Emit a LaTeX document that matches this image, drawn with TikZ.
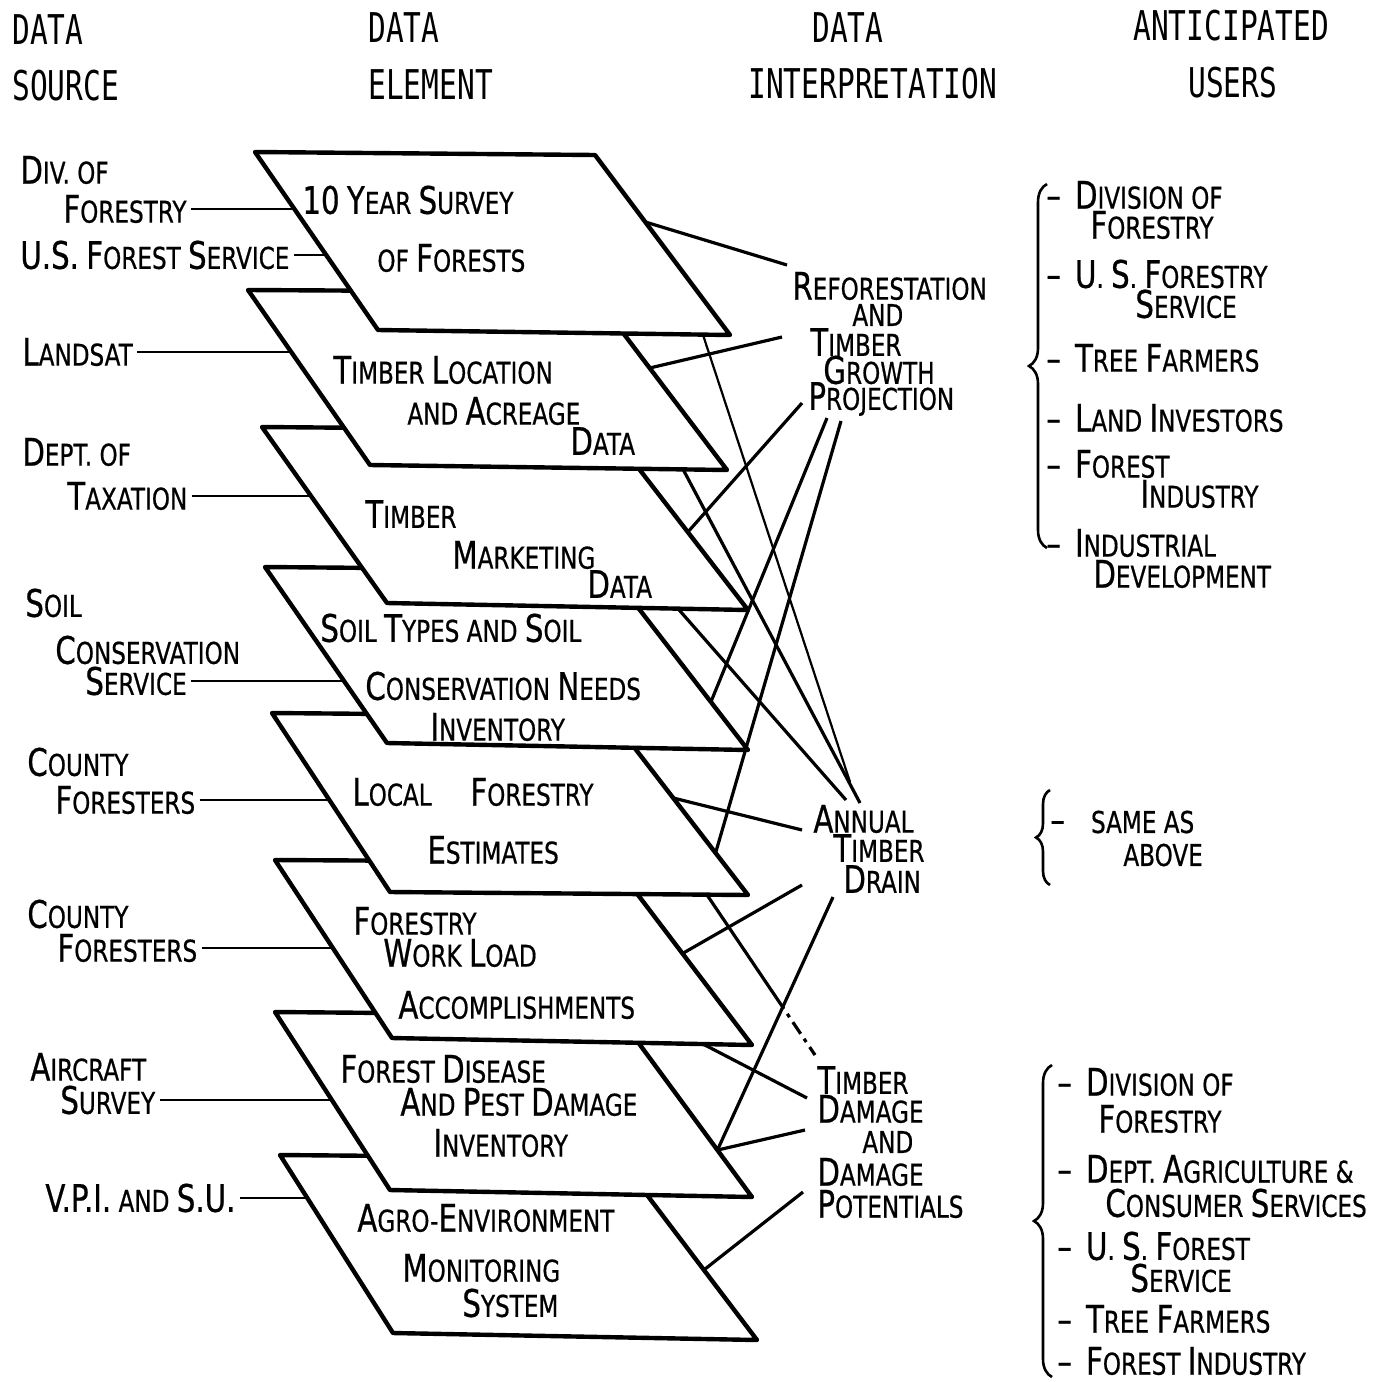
\documentclass[tikz,border=0pt]{standalone}
\usepackage{fontspec}
\usetikzlibrary{calc,decorations.pathreplacing}
\newfontfamily\lf[FakeStretch=0.77,FakeBold=0.6]{DejaVu Sans}
\newfontfamily\hf[FakeStretch=0.72]{DejaVu Sans Mono}
\newcommand\B[1]{{\fontsize{19}{19}\selectfont #1}}
\newcommand\D{\B{–}\hspace{7pt}}
\begin{document}
\begin{tikzpicture}[x=0.5pt,y=-0.5pt,
  every node/.style={inner sep=0pt, anchor=west},
  txt/.style={font=\lf\fontsize{15}{15}\selectfont},
  hdr/.style={font=\hf\fontsize{20.5}{20.5}\selectfont},
  layer/.style={draw, fill=white, line width=2.2pt, line join=round},
  link/.style={line width=1.6pt},
  fine/.style={line width=1.1pt},
  src/.style={line width=1.1pt, shorten <=2pt},
  brc/.style={decorate, decoration={brace, amplitude=#1}, line width=1.3pt}]

\useasboundingbox (0,0) rectangle (1390,1381);
\fill[white] (0,0) rectangle (1390,1381);

% ---------- layer corners ----------
\coordinate (L1a) at (255,152);  \coordinate (L1b) at (595,155);  \coordinate (L1c) at (730,335);  \coordinate (L1d) at (378,330);
\coordinate (L2a) at (248,290);  \coordinate (L2b) at (592,292);  \coordinate (L2c) at (727,470);  \coordinate (L2d) at (370,465);
\coordinate (L3a) at (262,427);  \coordinate (L3b) at (609,430);  \coordinate (L3c) at (748,610);  \coordinate (L3d) at (387,603);
\coordinate (L4a) at (265,567);  \coordinate (L4b) at (609,570);  \coordinate (L4c) at (748,750);  \coordinate (L4d) at (387,743);
\coordinate (L5a) at (272,713);  \coordinate (L5b) at (610,716);  \coordinate (L5c) at (748,895);  \coordinate (L5d) at (390,892);
\coordinate (L6a) at (275,860);  \coordinate (L6b) at (613,862);  \coordinate (L6c) at (752,1045); \coordinate (L6d) at (392,1038);
\coordinate (L7a) at (275,1012); \coordinate (L7b) at (618,1015); \coordinate (L7c) at (752,1197); \coordinate (L7d) at (390,1190);
\coordinate (L8a) at (280,1155); \coordinate (L8b) at (619,1158); \coordinate (L8c) at (757,1340); \coordinate (L8d) at (393,1333);

\foreach \k in {8,7,6,5,4,3,2,1}{
  \draw[layer] (L\k a) -- (L\k b) -- (L\k c) -- (L\k d) -- cycle;
}

% ---------- headers ----------
\node[hdr] (h1a) at (12,30) {DATA};
\node[hdr] (h1b) at (12,86) {SOURCE};
\node[hdr] (h2a) at (368,28) {DATA};
\node[hdr] (h2b) at (368,85) {ELEMENT};
\node[hdr] (h3a) at (812,28) {DATA};
\node[hdr] (h3b) at (748,84) {INTERPRETATION};
\node[hdr] (h4a) at (1133,26) {ANTICIPATED};
\node[hdr] (h4b) at (1188,83) {USERS};

% ---------- data sources ----------
\node[txt] (s1a) at (20,170) {\B{D}IV. OF};
\node[txt] (s1) at (63,209) {\B{F}ORESTRY};
\node[txt] (s2) at (20,255) {\B{U.S.} \B{F}OREST \B{S}ERVICE};
\node[txt] (s3) at (22,352) {\B{L}ANDSAT};
\node[txt] (s4a) at (22,452) {\B{D}EPT. OF};
\node[txt] (s4) at (67,496) {\B{T}AXATION};
\node[txt] (s5a) at (25,603) {\B{S}OIL};
\node[txt] (s5b) at (55,650) {\B{C}ONSERVATION};
\node[txt] (s5) at (85,681) {\B{S}ERVICE};
\node[txt] (s6a) at (27,762) {\B{C}OUNTY};
\node[txt] (s6) at (55,800) {\B{F}ORESTERS};
\node[txt] (s7a) at (27,914) {\B{C}OUNTY};
\node[txt] (s7) at (57,948) {\B{F}ORESTERS};
\node[txt] (s8a) at (30,1067) {\B{A}IRCRAFT};
\node[txt] (s8) at (60,1100) {\B{S}URVEY};
\node[txt] (s9) at (45,1198) {\B{V.P.I.} AND \B{S.U.}};

% points on left edges
\coordinate (p1) at (294,209);
\coordinate (p2) at (326,255);
\coordinate (p3) at (291,352);
\coordinate (p4) at (311,496);
\coordinate (p5) at (343,681);
\coordinate (p6) at (329,800);
\coordinate (p7) at (333,948);
\coordinate (p8) at (332,1100);
\coordinate (p9) at (307,1198);

\draw[src] (s1.east) -- (p1);
\draw[src] (s2.east) -- (p2);
\draw[src] (s3.east) -- (p3);
\draw[src] (s4.east) -- (p4);
\draw[src] (s5.east) -- (p5);
\draw[src] (s6.east) -- (p6);
\draw[src] (s7.east) -- (p7);
\draw[src] (s8.east) -- (p8);
\draw[src] (s9.east) -- (p9);

% ---------- data elements ----------
\node[txt] (e1a) at (302,200) {\B{10} \B{Y}EAR \B{S}URVEY};
\node[txt] (e1b) at (377,258) {OF \B{F}ORESTS};
\node[txt] (e2a) at (333,370) {\B{T}IMBER \B{L}OCATION};
\node[txt] (e2b) at (407,411) {AND \B{A}CREAGE};
\node[txt] (e2c) at (570,441) {\B{D}ATA};
\node[txt] (e3a) at (365,514) {\B{T}IMBER};
\node[txt] (e3b) at (452,555) {\B{M}ARKETING};
\node[txt] (e3c) at (587,584) {\B{D}ATA};
\node[txt] (e4a) at (320,628) {\B{S}OIL \B{T}YPES AND \B{S}OIL};
\node[txt] (e4b) at (365,686) {\B{C}ONSERVATION \B{N}EEDS};
\node[txt] (e4c) at (430,727) {\B{I}NVENTORY};
\node[txt] (e5a) at (352,792) {\B{L}OCAL};
\node[txt] (e5b) at (470,792) {\B{F}ORESTRY};
\node[txt] (e5c) at (427,850) {\B{E}STIMATES};
\node[txt] (e6a) at (353,921) {\B{F}ORESTRY};
\node[txt] (e6b) at (383,953) {\B{W}ORK \B{L}OAD};
\node[txt] (e6c) at (398,1005) {\B{A}CCOMPLISHMENTS};
\node[txt] (e7a) at (340,1069) {\B{F}OREST \B{D}ISEASE};
\node[txt] (e7b) at (400,1102) {\B{A}ND \B{P}EST \B{D}AMAGE};
\node[txt] (e7c) at (433,1143) {\B{I}NVENTORY};
\node[txt] (e8a) at (357,1218) {\B{A}GRO-\B{E}NVIRONMENT};
\node[txt] (e8b) at (402,1268) {\B{M}ONITORING};
\node[txt] (e8c) at (462,1303) {\B{S}YSTEM};

% ---------- data interpretation ----------
\node[txt] (r1) at (792,286) {\B{R}EFORESTATION};
\node[txt] (r2) at (852,315) {AND};
\node[txt] (r3) at (810,342) {\B{T}IMBER};
\node[txt] (r4) at (823,370) {\B{G}ROWTH};
\node[txt] (r5) at (808,399) {\B{P}ROJECTION};
\node[txt] (a1) at (813,819) {\B{A}NNUAL};
\node[txt] (a2) at (833,848) {\B{T}IMBER};
\node[txt] (a3) at (843,879) {\B{D}RAIN};
\node[txt] (t1) at (817,1080) {\B{T}IMBER};
\node[txt] (t2) at (817,1109) {\B{D}AMAGE};
\node[txt] (t3) at (862,1142) {AND};
\node[txt] (t4) at (817,1172) {\B{D}AMAGE};
\node[txt] (t5) at (817,1204) {\B{P}OTENTIALS};

% ---------- anticipated users ----------
\node[txt] (u1) at (1046,195) {\D\B{D}IVISION OF};
\node[txt] (u1b) at (1090,225) {\B{F}ORESTRY};
\node[txt] (u2) at (1046,274) {\D\B{U}. \B{S}. \B{F}ORESTRY};
\node[txt] (u2b) at (1135,304) {\B{S}ERVICE};
\node[txt] (u3) at (1046,358) {\D\B{T}REE \B{F}ARMERS};
\node[txt] (u4) at (1046,418) {\D\B{L}AND \B{I}NVESTORS};
\node[txt] (u5) at (1046,464) {\D\B{F}OREST};
\node[txt] (u5b) at (1140,494) {\B{I}NDUSTRY};
\node[txt] (u6) at (1046,543) {\D\B{I}NDUSTRIAL};
\node[txt] (u6b) at (1093,574) {\B{D}EVELOPMENT};

\node[txt] (v1) at (1050,822) {\B{–}\hspace{13pt}SAME AS};
\node[txt] (v2) at (1123,855) {ABOVE};

\node[txt] (w1) at (1057,1082) {\D\B{D}IVISION OF};
\node[txt] (w1b) at (1098,1119) {\B{F}ORESTRY};
\node[txt] (w2) at (1057,1169) {\D\B{D}EPT. \B{A}GRICULTURE \&};
\node[txt] (w2b) at (1105,1203) {\B{C}ONSUMER \B{S}ERVICES};
\node[txt] (w3) at (1057,1246) {\D\B{U}. \B{S}. \B{F}OREST};
\node[txt] (w3b) at (1130,1278) {\B{S}ERVICE};
\node[txt] (w4) at (1057,1319) {\D\B{T}REE \B{F}ARMERS};
\node[txt] (w5) at (1057,1361) {\D\B{F}OREST \B{I}NDUSTRY};

\draw[brc=9pt] (1047,548) -- (1047,184);
\draw[brc=7pt] (1050,885) -- (1050,790);
\draw[brc=9pt] (1052,1377) -- (1052,1065);

% ---------- connector end points ----------
\coordinate (c1) at ($(L1b)!0.372!(L1c)$);
\coordinate (c2) at ($(L2b)!0.427!(L2c)$);
\coordinate (c3) at ($(L3b)!0.567!(L3c)$);
\coordinate (c4) at ($(L4b)!0.733!(L4c)$);
\coordinate (c5) at ($(L5b)!0.765!(L5c)$);
\coordinate (c5b) at ($(L5b)!0.458!(L5c)$);
\coordinate (c6) at ($(L6b)!0.5!(L6c)$);
\coordinate (c7) at ($(L7b)!0.742!(L7c)$);
\coordinate (c8) at ($(L8b)!0.615!(L8c)$);
\coordinate (b1) at ($(L1d)!0.923!(L1c)$);
\coordinate (b2) at ($(L2d)!0.877!(L2c)$);
\coordinate (b3) at ($(L3d)!0.806!(L3c)$);
\coordinate (b5) at ($(L5d)!0.885!(L5c)$);
\coordinate (b6) at ($(L6d)!0.864!(L6c)$);

\coordinate (ri1) at (787,265);
\coordinate (ri2) at (782,337);
\coordinate (pj1) at (802,403);
\coordinate (pj2) at (827,418);
\coordinate (pj3) at (841,421);
\coordinate (ad1) at (850,782);
\coordinate (ad2) at (860,803);
\coordinate (ad3) at (846,800);
\coordinate (ad4) at (802,830);
\coordinate (ad5) at (802,885);
\coordinate (ad6) at (833,897);
\coordinate (td1) at (815,1055);
\coordinate (td2) at (807,1098);
\coordinate (td3) at (805,1130);
\coordinate (td4) at (803,1192);
\coordinate (tdm) at ($(b5)!0.64!(td1)$);

\draw[link] (c1) -- (ri1);
\draw[link] (c2) -- (ri2);
\draw[link] (pj1) -- (c3);
\draw[link] (pj2) -- (c4);
\draw[link] (pj3) -- (c5);
\draw[fine] (b1) -- (ad1);
\draw[link] (b2) -- (ad2);
\draw[link] (b3) -- (ad3);
\draw[link] (c5b) -- (ad4);
\draw[link] (c6) -- (ad5);
\draw[link] (ad6) -- (c7);
\draw[link] (c7) -- (td3);
\draw[link] (c8) -- (td4);
\draw[link] (b6) -- (td2);
\draw[link] (b5) -- (tdm);
\draw[link, dash pattern=on 7pt off 3pt on 2pt off 3pt] (tdm) -- (td1);

\end{tikzpicture}
\end{document}
